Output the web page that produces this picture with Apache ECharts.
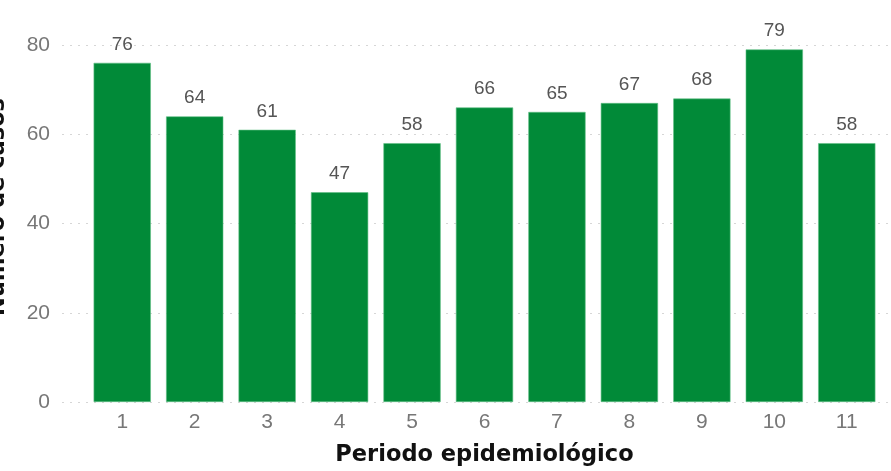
<!DOCTYPE html>
<html><head><meta charset="utf-8">
<script src="https://cdn.jsdelivr.net/npm/echarts@6/dist/echarts.min.js"></script>
<style>html,body{margin:0;padding:0;background:#fff}#c{width:891px;height:471px}</style>
</head><body><div id="c"></div>
<script>
const categories = ['1','2','3','4','5','6','7','8','9','10','11'];
const casos = [76,64,61,47,58,66,65,67,68,79,58];
const yTicks = {min:0, max:80, interval:20};
const xTitle = 'Periodo epidemiológico';
const yTitle = 'Número de casos';

const font = 'Liberation Sans, Arial, sans-serif';
const titleFont = 'DejaVu Sans, sans-serif';
const chart = echarts.init(document.getElementById('c'));
chart.setOption({
  animation:false,
  grid:[
    {left:86, right:8, top:45, bottom:69, outerBoundsMode:'none'},
    {left:62, right:0, top:45, bottom:69, outerBoundsMode:'none'}
  ],
  xAxis:[
    {type:'category', data:categories, gridIndex:0,
     axisLine:{show:false}, axisTick:{show:false},
     axisLabel:{color:'#777', fontSize:21, fontFamily:font, margin:10},
     name:xTitle, nameLocation:'middle', nameGap:42,
     nameTextStyle:{color:'#111', fontSize:22.5, fontWeight:'bold', fontFamily:titleFont}},
    {type:'value', gridIndex:1, show:false}
  ],
  yAxis:[
    {type:'value', gridIndex:0, min:yTicks.min, max:yTicks.max, interval:yTicks.interval, show:false, splitLine:{show:false}},
    {type:'value', gridIndex:1, min:yTicks.min, max:yTicks.max, interval:yTicks.interval,
     axisLine:{show:false}, axisTick:{show:false},
     axisLabel:{color:'#777', fontSize:21, fontFamily:font, margin:12},
     splitLine:{show:true, lineStyle:{color:'#d6d6d6', type:[2,6], width:1}}}
  ],
  graphic:[{
    type:'text', left:-13, top:98, rotation:Math.PI/2,
    style:{text:yTitle, fill:'#111', font:'bold 22.5px DejaVu Sans, sans-serif'}
  }],
  series:[{
    type:'bar', xAxisIndex:0, yAxisIndex:0, data:casos, barCategoryGap:'21%',
    itemStyle:{color:'#018a38', borderColor:'#5fbf85', borderWidth:0.6},
    label:{show:true, position:'top', distance:9, color:'#555', fontSize:19, fontFamily:font}
  }]
});
</script></body></html>
